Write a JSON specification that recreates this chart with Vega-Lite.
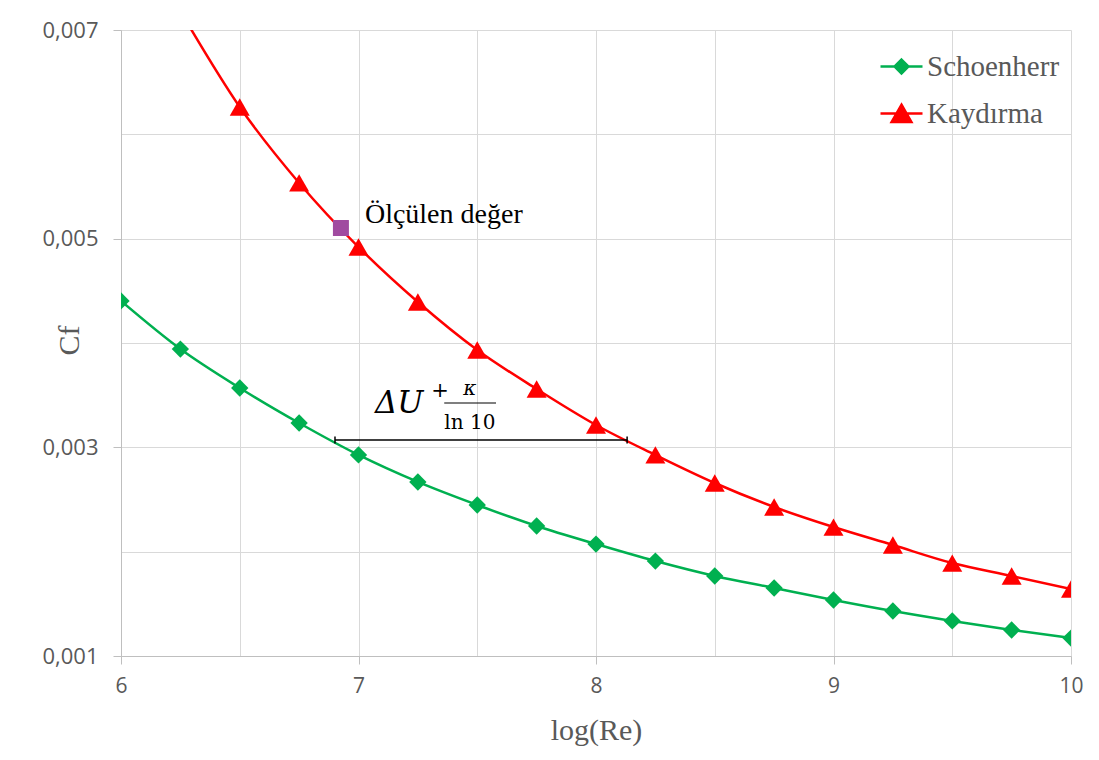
{
  "$schema": "https://vega.github.io/schema/vega-lite/v6.json",
  "width": 950,
  "height": 626,
  "autosize": {"type": "none"},
  "padding": {"left": 121, "top": 30, "right": 28, "bottom": 104},
  "background": "white",
  "config": {
    "view": {"stroke": null},
    "axis": {
      "labelFont": "Open Sans",
      "labelFontSize": 22,
      "labelColor": "#595959",
      "titleFont": "Liberation Serif",
      "titleFontSize": 30,
      "titleFontWeight": "normal",
      "titleColor": "#595959",
      "gridColor": "#D9D9D9",
      "gridWidth": 1,
      "domainColor": "#BFBFBF",
      "domainWidth": 1,
      "tickColor": "#BFBFBF",
      "tickSize": 8
    },
    "legend": {
      "orient": "none",
      "title": null,
      "labelFont": "Liberation Serif",
      "labelFontSize": 29,
      "labelColor": "#595959",
      "labelOffset": 3,
      "padding": 0,
      "symbolSize": 1764,
      "symbolStrokeWidth": 2.5,
      "symbolOpacity": 1
    }
  },
  "resolve": {"scale": {"color": "independent"}},
  "data": {
    "values": [
      {"kind": "curve", "series": "Schoenherr", "x": 6, "y": 0.004403},
      {"kind": "curve", "series": "Schoenherr", "x": 6.25, "y": 0.003942},
      {"kind": "curve", "series": "Schoenherr", "x": 6.5, "y": 0.003569},
      {"kind": "curve", "series": "Schoenherr", "x": 6.75, "y": 0.003233},
      {"kind": "curve", "series": "Schoenherr", "x": 7, "y": 0.002927},
      {"kind": "curve", "series": "Schoenherr", "x": 7.25, "y": 0.002668},
      {"kind": "curve", "series": "Schoenherr", "x": 7.5, "y": 0.002447},
      {"kind": "curve", "series": "Schoenherr", "x": 7.75, "y": 0.002246},
      {"kind": "curve", "series": "Schoenherr", "x": 8, "y": 0.002073},
      {"kind": "curve", "series": "Schoenherr", "x": 8.25, "y": 0.00191},
      {"kind": "curve", "series": "Schoenherr", "x": 8.5, "y": 0.001767},
      {"kind": "curve", "series": "Schoenherr", "x": 8.75, "y": 0.001652},
      {"kind": "curve", "series": "Schoenherr", "x": 9, "y": 0.001537},
      {"kind": "curve", "series": "Schoenherr", "x": 9.25, "y": 0.001431},
      {"kind": "curve", "series": "Schoenherr", "x": 9.5, "y": 0.001336},
      {"kind": "curve", "series": "Schoenherr", "x": 9.75, "y": 0.001249},
      {"kind": "curve", "series": "Schoenherr", "x": 10, "y": 0.001172},
      {"kind": "curve", "series": "Kaydırma", "x": 6.25, "y": 0.00718},
      {"kind": "curve", "series": "Kaydırma", "x": 6.5, "y": 0.006262},
      {"kind": "curve", "series": "Kaydırma", "x": 6.75, "y": 0.005534},
      {"kind": "curve", "series": "Kaydırma", "x": 7, "y": 0.00492},
      {"kind": "curve", "series": "Kaydırma", "x": 7.25, "y": 0.004393},
      {"kind": "curve", "series": "Kaydırma", "x": 7.5, "y": 0.003933},
      {"kind": "curve", "series": "Kaydırma", "x": 7.75, "y": 0.003559},
      {"kind": "curve", "series": "Kaydırma", "x": 8, "y": 0.003214},
      {"kind": "curve", "series": "Kaydırma", "x": 8.25, "y": 0.002927},
      {"kind": "curve", "series": "Kaydırma", "x": 8.5, "y": 0.002658},
      {"kind": "curve", "series": "Kaydırma", "x": 8.75, "y": 0.002428},
      {"kind": "curve", "series": "Kaydırma", "x": 9, "y": 0.002236},
      {"kind": "curve", "series": "Kaydırma", "x": 9.25, "y": 0.002064},
      {"kind": "curve", "series": "Kaydırma", "x": 9.5, "y": 0.001891},
      {"kind": "curve", "series": "Kaydırma", "x": 9.75, "y": 0.001767},
      {"kind": "curve", "series": "Kaydırma", "x": 10, "y": 0.001642},
      {"kind": "measured", "x": 6.926, "y": 0.005102},
      {"kind": "label", "x": 7.027, "y": 0.00515, "text": "Ölçülen değer"},
      {"kind": "span", "x": 6.901, "x2": 8.131, "y": 0.00307},
      {"kind": "cap", "x": 6.901, "y": 0.00307},
      {"kind": "cap", "x": 8.131, "y": 0.00307},
      {"kind": "fracbar", "x": 7.361, "x2": 7.579, "y": 0.003425},
      {"kind": "mathbig", "x": 7.069, "y": 0.003329, "text": "ΔU"},
      {"kind": "mathsup", "x": 7.343, "y": 0.003482, "text": "+"},
      {"kind": "mathnum", "x": 7.469, "y": 0.003502, "text": "κ"},
      {"kind": "mathden", "x": 7.469, "y": 0.003176, "text": "ln 10"}
    ]
  },
  "layer": [
    {
      "transform": [{"filter": "datum.kind === 'curve'"}],
      "mark": {"type": "line", "interpolate": "monotone", "strokeWidth": 2.5, "clip": true},
      "encoding": {
        "x": {
          "field": "x", "type": "quantitative",
          "scale": {"domain": [6, 10], "nice": false, "zero": false},
          "axis": {
            "title": "log(Re)",
            "values": [6, 6.5, 7, 7.5, 8, 8.5, 9, 9.5, 10],
            "labelExpr": "datum.value % 1 === 0 ? format(datum.value, 'd') : ''",
            "tickOpacity": {"condition": {"test": "datum.value % 1 === 0", "value": 1}, "value": 0},
            "labelFontSize": 21,
            "labelPadding": 11,
            "labelFlush": false,
            "titleX": 475,
            "titleY": 83,
            "titleBaseline": "alphabetic"
          }
        },
        "y": {
          "field": "y", "type": "quantitative",
          "scale": {"domain": [0.001, 0.007], "nice": false, "zero": false},
          "axis": {
            "title": "Cf",
            "values": [0.001, 0.002, 0.003, 0.004, 0.005, 0.006, 0.007],
            "labelExpr": "round(datum.value * 1000) % 2 === 1 ? replace(format(datum.value, '.3f'), '.', ',') : ''",
            "tickOpacity": {"condition": {"test": "round(datum.value * 1000) % 2 === 1", "value": 1}, "value": 0},
            "labelFontSize": 22,
            "labelPadding": 15,
            "labelFlush": false,
            "titleX": -52,
            "titleY": 310,
            "titleBaseline": "middle",
            "titleAngle": -90
          }
        },
        "color": {
          "field": "series", "type": "nominal",
          "scale": {"domain": ["Schoenherr", "Kaydırma"], "range": ["#00B050", "#FF0000"]},
          "legend": null
        },
        "detail": {"field": "series"}
      }
    },
    {
      "transform": [{"filter": "datum.kind === 'curve' && datum.series === 'Schoenherr'"}],
      "mark": {"type": "point", "shape": "diamond", "filled": true, "opacity": 1, "size": 300, "clip": true},
      "encoding": {
        "x": {"field": "x", "type": "quantitative"},
        "y": {"field": "y", "type": "quantitative"},
        "color": {
          "field": "series", "type": "nominal",
          "scale": {"domain": ["Schoenherr"], "range": ["#00B050"]},
          "legend": {
            "legendX": 758,
            "legendY": 14,
            "symbolType": "M-1,0L1,0M0,-0.33L0.33,0L0,0.33L-0.33,0Z",
            "symbolFillColor": "#00B050",
            "symbolStrokeColor": "#00B050"
          }
        }
      }
    },
    {
      "transform": [{"filter": "datum.kind === 'curve' && datum.series === 'Kaydırma'"}],
      "mark": {"type": "point", "shape": "triangle-up", "filled": true, "opacity": 1, "size": 400, "clip": true},
      "encoding": {
        "x": {"field": "x", "type": "quantitative"},
        "y": {"field": "y", "type": "quantitative"},
        "color": {
          "field": "series", "type": "nominal",
          "scale": {"domain": ["Kaydırma"], "range": ["#FF0000"]},
          "legend": {
            "legendX": 758,
            "legendY": 61,
            "symbolType": "M-1,0L1,0M0,-0.42L0.47,0.4L-0.47,0.4Z",
            "symbolFillColor": "#FF0000",
            "symbolStrokeColor": "#FF0000"
          }
        }
      }
    },
    {
      "transform": [{"filter": "datum.kind === 'measured'"}],
      "mark": {"type": "point", "shape": "square", "filled": true, "opacity": 1, "size": 256, "color": "#A04BA0"},
      "encoding": {
        "x": {"field": "x", "type": "quantitative"},
        "y": {"field": "y", "type": "quantitative"}
      }
    },
    {
      "transform": [{"filter": "datum.kind === 'label'"}],
      "mark": {"type": "text", "font": "Liberation Serif", "fontSize": 28, "color": "#000000", "align": "left", "baseline": "alphabetic"},
      "encoding": {
        "x": {"field": "x", "type": "quantitative"},
        "y": {"field": "y", "type": "quantitative"},
        "text": {"field": "text"}
      }
    },
    {
      "transform": [{"filter": "datum.kind === 'span'"}],
      "mark": {"type": "rule", "color": "#000000", "strokeWidth": 1.5},
      "encoding": {
        "x": {"field": "x", "type": "quantitative"},
        "x2": {"field": "x2"},
        "y": {"field": "y", "type": "quantitative"}
      }
    },
    {
      "transform": [{"filter": "datum.kind === 'cap'"}],
      "mark": {"type": "point", "shape": "M0,-1L0,1", "filled": false, "opacity": 1, "size": 49, "color": "#000000", "strokeWidth": 1.5},
      "encoding": {
        "x": {"field": "x", "type": "quantitative"},
        "y": {"field": "y", "type": "quantitative"}
      }
    },
    {
      "transform": [{"filter": "datum.kind === 'fracbar'"}],
      "mark": {"type": "rule", "color": "#000000", "strokeWidth": 1.2},
      "encoding": {
        "x": {"field": "x", "type": "quantitative"},
        "x2": {"field": "x2"},
        "y": {"field": "y", "type": "quantitative"}
      }
    },
    {
      "transform": [{"filter": "datum.kind === 'mathbig'"}],
      "mark": {"type": "text", "font": "DejaVu Serif", "fontStyle": "italic", "fontSize": 31, "color": "#000000", "align": "left", "baseline": "alphabetic"},
      "encoding": {
        "x": {"field": "x", "type": "quantitative"},
        "y": {"field": "y", "type": "quantitative"},
        "text": {"field": "text"}
      }
    },
    {
      "transform": [{"filter": "datum.kind === 'mathsup'"}],
      "mark": {"type": "text", "font": "DejaVu Serif", "fontSize": 21, "color": "#000000", "align": "center", "baseline": "alphabetic"},
      "encoding": {
        "x": {"field": "x", "type": "quantitative"},
        "y": {"field": "y", "type": "quantitative"},
        "text": {"field": "text"}
      }
    },
    {
      "transform": [{"filter": "datum.kind === 'mathnum'"}],
      "mark": {"type": "text", "font": "DejaVu Serif", "fontStyle": "italic", "fontSize": 20, "color": "#000000", "align": "center", "baseline": "alphabetic"},
      "encoding": {
        "x": {"field": "x", "type": "quantitative"},
        "y": {"field": "y", "type": "quantitative"},
        "text": {"field": "text"}
      }
    },
    {
      "transform": [{"filter": "datum.kind === 'mathden'"}],
      "mark": {"type": "text", "font": "DejaVu Serif", "fontSize": 20, "color": "#000000", "align": "center", "baseline": "alphabetic"},
      "encoding": {
        "x": {"field": "x", "type": "quantitative"},
        "y": {"field": "y", "type": "quantitative"},
        "text": {"field": "text"}
      }
    }
  ]
}
